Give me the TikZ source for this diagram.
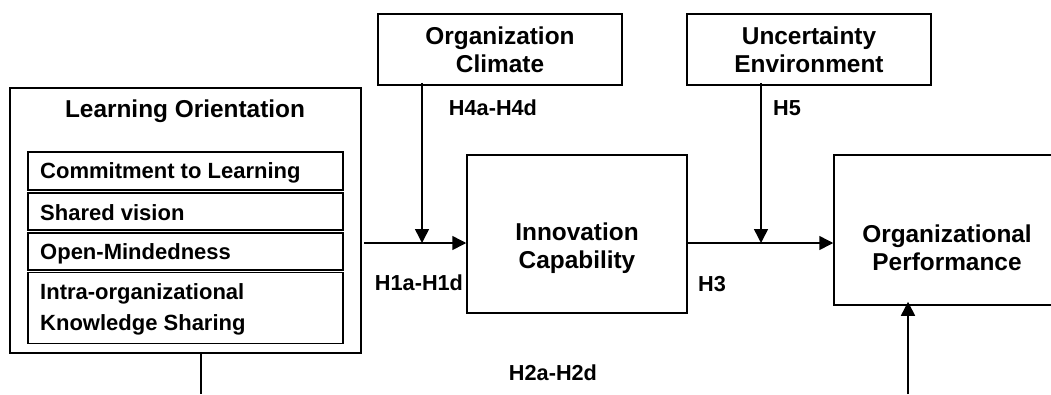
\documentclass[tikz,border=0pt]{standalone}
\usepackage{fontspec}
\setmainfont{Liberation Sans}
\usetikzlibrary{arrows.meta}

\tikzset{
  box/.style={draw, line width=1.5pt, inner sep=0pt},
  title/.style={font=\fontsize{24.4}{28}\selectfont\bfseries, align=center, inner sep=0pt},
  item/.style={font=\fontsize{22}{31}\selectfont\bfseries, align=left, anchor=west, inner sep=0pt},
  hyp/.style={font=\fontsize{21.7}{26}\selectfont\bfseries, inner sep=0pt},
  conn/.style={line width=1.5pt},
  arr/.style={conn, -{Triangle[length=14pt,width=14pt]}},
}

\begin{document}
\begin{tikzpicture}[x=1pt, y=-1pt]
\useasboundingbox (0,0) rectangle (1051,394);
\clip (0,0) rectangle (1051,394);

% Learning orientation with its four dimensions
\node[box, minimum width=351, minimum height=265] (lo) at (185.5,220.5) {};
\node[title] (lotitle) at (185,111) {Learning Orientation};
\node[box, minimum width=315, minimum height=38] (d1) at (185.5,171) {};
\node[box, minimum width=315, minimum height=37] (d2) at (185.5,211.5) {};
\node[box, minimum width=315, minimum height=37] (d3) at (185.5,251.5) {};
\node[box, minimum width=315, minimum height=71] (d4) at (185.5,308) {};
\node[item] (d1t) at (40,172.5) {Commitment to Learning};
\node[item] (d2t) at (40,213) {Shared vision};
\node[item] (d3t) at (40,253.5) {Open-Mindedness};
\node[item] (d4t) at (40,309) {Intra-organizational\\Knowledge Sharing};

% Moderators
\node[box, minimum width=244, minimum height=71] (oc) at (500,49.5) {};
\node[title] (octext) at (500,50) {Organization\\Climate};
\node[box, minimum width=244, minimum height=71] (ue) at (809,49.5) {};
\node[title] (uetext) at (809,50) {Uncertainty\\Environment};

% Innovation capability and performance
\node[box, minimum width=220, minimum height=158] (ic) at (577,234) {};
\node[title] (ictext) at (577,248) {Innovation\\Capability};
\node[box, minimum width=226, minimum height=150] (op) at (947,230) {};
\node[title] (optext) at (947,248) {Organizational\\Performance};

% Hypothesis labels
\node[hyp] (h4) at (493,108) {H4a-H4d};
\node[hyp] (h5) at (787,108) {H5};
\node[hyp] (h1) at (419,283) {H1a-H1d};
\node[hyp] (h3) at (712,284) {H3};
\node[hyp] (h2) at (553,373) {H2a-H2d};

% Junctions and free ends
\coordinate (j1) at (422,243);
\coordinate (j2) at (761,243);
\coordinate (lobot) at (201,394);
\coordinate (opbot) at (908,394);

% Connectors
\draw[arr] ([xshift=2pt]lo.east |- j1) -- (ic.west |- j1);
\draw[arr] ([yshift=3pt]oc.south -| j1) -- (j1);
\draw[arr] (ic.east |- j2) -- (op.west |- j2);
\draw[arr] ([yshift=3pt]ue.south -| j2) -- (j2);
\draw[conn] (lo.south -| lobot) -- (lobot);
\draw[arr] (opbot) -- ([yshift=4pt]op.south -| opbot);
\end{tikzpicture}
\end{document}
